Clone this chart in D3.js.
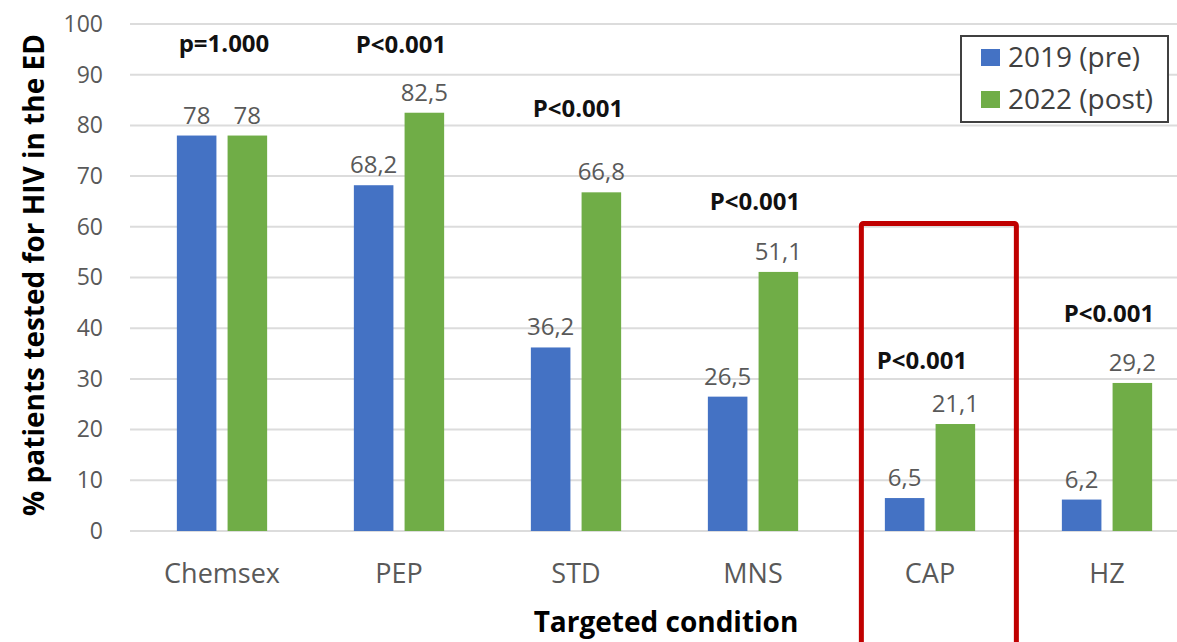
<!DOCTYPE html>
<html><head><meta charset="utf-8">
<script src="https://cdn.jsdelivr.net/npm/d3@7"></script>
<style>body{margin:0;background:#fff}svg{display:block}text{font-family:"Open Sans",sans-serif}</style>
</head><body><svg id="c" width="1177" height="642"></svg>
<script>
const categories = ["Chemsex","PEP","STD","MNS","CAP","HZ"];
const seriesNames = ["2019 (pre)","2022 (post)"];
const pre2019 = [78, 68.2, 36.2, 26.5, 6.5, 6.2];
const post2022 = [78, 82.5, 66.8, 51.1, 21.1, 29.2];
const pLabels = ["p=1.000","P<0.001","P<0.001","P<0.001","P<0.001","P<0.001"];
const pLabelLevel = [96.2, 96, 83.4, 65, 33.7, 43];
const yTicks = [0,10,20,30,40,50,60,70,80,90,100];
const highlighted = "CAP";
const colors = ["#4472C4","#70AD47"];

const svg = d3.select("#c");
const y = d3.scaleLinear().domain([0,100]).range([531,24]);
const x0 = d3.scaleBand().domain(categories).range([133.5,1195.5]).paddingInner(0.49).paddingOuter(0.245);
const x1 = d3.scaleBand().domain(seriesNames).range([0,x0.bandwidth()]).paddingInner(0.22);
const fmt = v => String(v).replace(".", ",");

const yAxis = d3.axisLeft(y).tickValues(yTicks).tickSize(0).tickPadding(0);
const ga = svg.append("g").attr("transform","translate(103,0)").call(yAxis);
ga.select(".domain").remove();
ga.selectAll("text").attr("font-size",23).attr("fill","#595959").attr("font-family","Open Sans");
svg.append("g").selectAll("line").data(yTicks).join("line")
  .attr("x1",130).attr("x2",1177).attr("y1",d=>y(d)).attr("y2",d=>y(d))
  .attr("stroke","#dcdcdc").attr("stroke-width",2);

const rows = categories.map((c,i)=>({c, vals:[pre2019[i], post2022[i]]}));
const g = svg.append("g").selectAll("g").data(rows).join("g")
  .attr("transform", d=>`translate(${x0(d.c)},0)`);
g.selectAll("rect").data(d=>d.vals.map((v,j)=>({v,s:seriesNames[j],j}))).join("rect")
  .attr("x",d=>x1(d.s)).attr("width",x1.bandwidth())
  .attr("y",d=>y(d.v)).attr("height",d=>y(0)-y(d.v))
  .attr("fill",d=>colors[d.j]);
g.selectAll("text.v").data(d=>d.vals.map((v,j)=>({v,s:seriesNames[j]}))).join("text")
  .attr("class","v").attr("x",d=>x1(d.s)+x1.bandwidth()/2).attr("y",d=>y(d.v)-12)
  .attr("text-anchor","middle").attr("font-size",24).attr("fill","#595959").text(d=>fmt(d.v));

svg.append("g").selectAll("text").data(categories).join("text")
  .attr("x",d=>x0(d)+x0.bandwidth()/2+(d===highlighted?-8:2)).attr("y",(d,i)=>y(pLabelLevel[i])+9)
  .attr("text-anchor","middle").attr("font-size",24).attr("font-weight","bold").attr("fill","#111")
  .text((d,i)=>pLabels[i]);

const xAxis = d3.axisBottom(x0).tickSize(0).tickPadding(0);
const gx = svg.append("g").attr("transform","translate(0,583)").call(xAxis);
gx.select(".domain").remove();
gx.selectAll("text").attr("font-size",27).attr("fill","#595959").attr("font-family","Open Sans").attr("dy","0");

svg.append("text").attr("x",666).attr("y",632).attr("text-anchor","middle")
  .attr("font-size",28).attr("font-weight","bold").attr("fill","#000").text("Targeted condition");
svg.append("text").attr("transform","translate(44,275) rotate(-90)").attr("text-anchor","middle")
  .attr("font-size",28).attr("font-weight","bold").attr("fill","#000").text("% patients tested for HIV in the ED");

const lg = svg.append("g");
lg.append("rect").attr("x",961).attr("y",36).attr("width",207).attr("height",86)
  .attr("fill","#fff").attr("stroke","#404040").attr("stroke-width",2);
seriesNames.forEach((s,i)=>{
  lg.append("rect").attr("x",981).attr("y",49+i*42).attr("width",19).attr("height",17).attr("fill",colors[i]);
  lg.append("text").attr("x",1008).attr("y",67+i*42).attr("font-size",28).attr("fill","#404040").text(s);
});

const hx = x0(highlighted);
svg.append("rect").attr("x",hx-23.5).attr("y",223.5).attr("width",155).attr("height",440)
  .attr("rx",2).attr("fill","none").attr("stroke","#C00000").attr("stroke-width",5);
</script></body></html>
